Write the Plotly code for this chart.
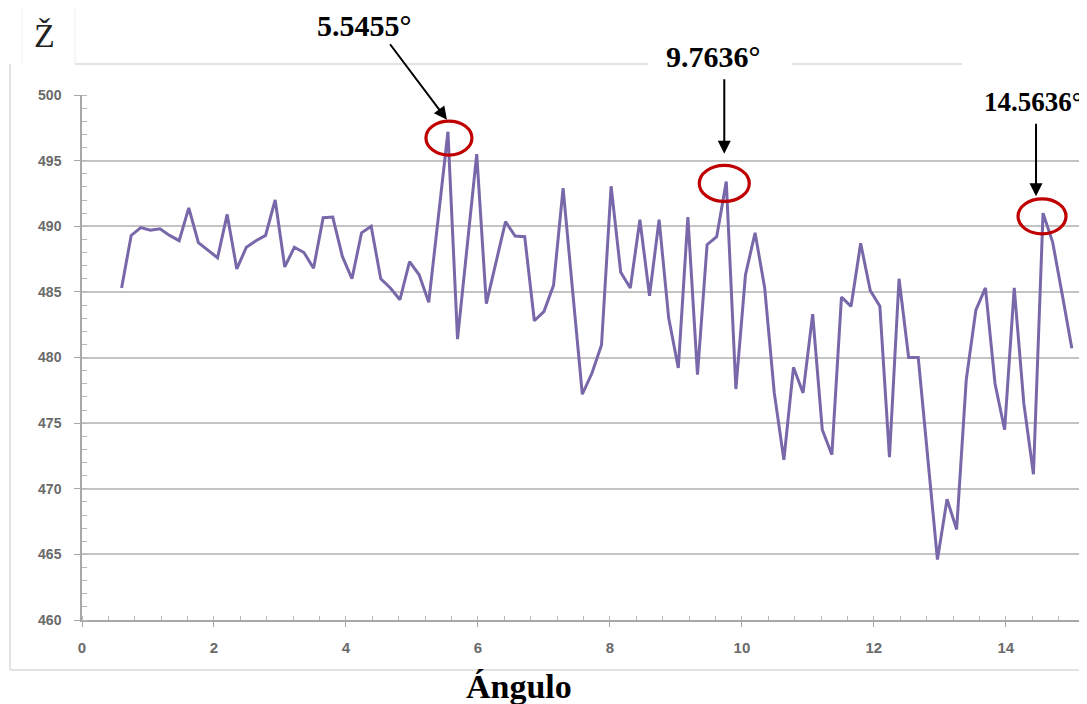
import plotly.graph_objects as go

# ---------------- data ----------------
angles = [
    0.6000, 0.7455, 0.8909, 1.0364, 1.1818, 1.3273, 1.4727, 1.6182, 1.7636, 1.9091,
    2.0545, 2.2000, 2.3455, 2.4909, 2.6364, 2.7818, 2.9273, 3.0727, 3.2182, 3.3636,
    3.5091, 3.6545, 3.8000, 3.9455, 4.0909, 4.2364, 4.3818, 4.5273, 4.6727, 4.8182,
    4.9636, 5.1091, 5.2545, 5.4000, 5.5455, 5.6909, 5.8364, 5.9818, 6.1273, 6.2727,
    6.4182, 6.5636, 6.7091, 6.8545, 7.0000, 7.1455, 7.2909, 7.4364, 7.5818, 7.7273,
    7.8727, 8.0182, 8.1636, 8.3091, 8.4545, 8.6000, 8.7455, 8.8909, 9.0364, 9.1818,
    9.3273, 9.4727, 9.6182, 9.7636, 9.9091, 10.0545, 10.2000, 10.3455, 10.4909, 10.6364,
    10.7818, 10.9273, 11.0727, 11.2182, 11.3636, 11.5091, 11.6545, 11.8000, 11.9455, 12.0909,
    12.2364, 12.3818, 12.5273, 12.6727, 12.8182, 12.9636, 13.1091, 13.2545, 13.4000, 13.5455,
    13.6909, 13.8364, 13.9818, 14.1273, 14.2727, 14.4182, 14.5636, 14.7091, 14.8545, 15.0000,
]
z_values = [
    485.3, 489.3, 489.9, 489.7, 489.8, 489.3, 488.9, 491.4, 488.75, 488.2,
    487.6, 490.9, 486.75, 488.4, 488.9, 489.3, 492.0, 486.9, 488.4, 488.0,
    486.8, 490.65, 490.7, 487.7, 486.0, 489.5, 490.0, 486.0, 485.3, 484.4,
    487.3, 486.3, 484.2, 490.7, 497.2, 481.4, 488.5, 495.5, 484.1, 487.2,
    490.35, 489.25, 489.2, 482.8, 483.5, 485.5, 492.9, 485.0, 477.2, 478.8,
    480.95, 493.05, 486.5, 485.3, 490.5, 484.7, 490.5, 483.0, 479.2, 490.7,
    478.7, 488.6, 489.2, 493.4, 477.6, 486.3, 489.5, 485.3, 477.3, 472.2,
    479.25, 477.3, 483.3, 474.5, 472.6, 484.6, 483.9, 488.7, 485.1, 483.9,
    472.4, 486.0, 480.0, 480.0, 472.3, 464.6, 469.2, 466.9, 478.3, 483.6,
    485.3, 478.0, 474.5, 485.3, 476.5, 471.1, 491.0, 488.8, 484.8, 480.7,
]
peak_indices = [34, 63, 96]
peak_labels = ["5.5455°", "9.7636°", "14.5636°"]
y_ticks = [460, 465, 470, 475, 480, 485, 490, 495, 500]
x_ticks = [0, 2, 4, 6, 8, 10, 12, 14]
x_title = "Ángulo"
y_title = "Ž"

# ---------------- figure ----------------
OFF = 8  # default page body margin
W, H = 1087 - OFF, 704 - OFF
ML, MR, MT, MB = 82 - OFF, 0, 95 - OFF, 704 - 620
PW, PH = W - ML - MR, H - MT - MB


def px_x(px):  # page pixel -> paper
    return (px - OFF - ML) / PW


def px_y(py):
    return (H - MB - (py - OFF)) / PH


fig = go.Figure()
fig.add_trace(go.Scatter(
    x=angles, y=z_values, mode="lines",
    line=dict(color="#7868A9", width=3),
    hoverinfo="skip", showlegend=False,
))

tick_font_y = dict(family="Liberation Sans, Arial, sans-serif", size=14, color="#6a6a6a", weight="bold")
tick_font_x = dict(family="Liberation Sans Narrow, Liberation Sans, Arial, sans-serif", size=15, color="#6a6a6a", weight="bold")

fig.update_layout(
    width=W, height=H, autosize=False,
    margin=dict(l=ML, r=MR, t=MT, b=MB, pad=0),
    paper_bgcolor="white", plot_bgcolor="white",
    showlegend=False,
    xaxis=dict(
        range=[0, 15.23], tickvals=x_ticks, ticktext=[str(v) for v in x_ticks],
        showgrid=False, zeroline=False,
        showline=True, linecolor="#A8A8A8", linewidth=1.5,
        ticks="outside", ticklen=5, tickcolor="#A8A8A8", tickwidth=1.2,
        ticklabelstandoff=8,
        minor=dict(dtick=0.4, tick0=0, ticks="inside", ticklen=4, tickcolor="#B8B8B8", showgrid=False),
        tickfont=tick_font_x,
    ),
    yaxis=dict(
        range=[460, 500], tickvals=y_ticks,
        showgrid=True, gridcolor="#C4C4C4", gridwidth=1.6,
        zeroline=False,
        showline=True, linecolor="#A8A8A8", linewidth=1.5,
        ticks="outside", ticklen=6, tickcolor="#A8A8A8", tickwidth=1.2,
        ticklabelstandoff=10,
        minor=dict(dtick=1, tick0=460, ticks="inside", ticklen=5, tickcolor="#B8B8B8", showgrid=False),
        tickfont=tick_font_y,
    ),
)

shapes = []
frame_col = "#DADADA"
shapes.append(dict(type="line", xref="paper", yref="paper", x0=px_x(75), x1=px_x(1095), y0=px_y(64), y1=px_y(64),
                   line=dict(color=frame_col, width=1.5), layer="below"))
shapes.append(dict(type="line", xref="paper", yref="paper", x0=px_x(10), x1=px_x(10), y0=px_y(64), y1=px_y(670),
                   line=dict(color=frame_col, width=1.5), layer="below"))
shapes.append(dict(type="line", xref="paper", yref="paper", x0=px_x(10), x1=px_x(1095), y0=px_y(670), y1=px_y(670),
                   line=dict(color=frame_col, width=1.5), layer="below"))
shapes.append(dict(type="line", xref="paper", yref="paper", x0=px_x(75), x1=px_x(75), y0=px_y(8), y1=px_y(64),
                   line=dict(color="#F0F0F0", width=1.2), layer="below"))
shapes.append(dict(type="line", xref="paper", yref="paper", x0=px_x(22), x1=px_x(22), y0=px_y(8), y1=px_y(64),
                   line=dict(color="#F3F3F3", width=1.2), layer="below"))

# white patches behind the peak labels
shapes.append(dict(type="rect", xref="paper", yref="paper", x0=px_x(648), x1=px_x(792), y0=px_y(76), y1=px_y(40),
                   fillcolor="white", line=dict(width=0), layer="above"))
shapes.append(dict(type="rect", xref="paper", yref="paper", x0=px_x(962), x1=px_x(1100), y0=px_y(118), y1=px_y(56),
                   fillcolor="white", line=dict(width=0), layer="above"))

ellipse_geo = [  # (dx centre, dy centre (down), width, height) in px
    (1, 6.3, 46, 34),
    (-2, 1.8, 50, 36),
    (-1, 3.2, 48, 35),
]
for idx, (dx, dy, ew, eh) in zip(peak_indices, ellipse_geo):
    shapes.append(dict(
        type="circle", xref="x", yref="y",
        xsizemode="pixel", ysizemode="pixel",
        xanchor=angles[idx], yanchor=z_values[idx],
        x0=dx - ew / 2, x1=dx + ew / 2,
        y0=-dy - eh / 2, y1=-dy + eh / 2,
        line=dict(color="#C00000", width=3.2), layer="above",
    ))
fig.update_layout(shapes=shapes)

annotations = []
label_pos = [(364, 26), (713, 57), (1033, 102)]
label_size = [30, 30, 27]
arrow_geo = [  # tip offset from peak (dx, dy up), tail offset from tip (ax, ay)
    (-1, 12, -58, -77),
    (-2, 28, 0, -76),
    (-7, 17, 0, -74),
]
for idx, lab, (lx, ly), fs, (tdx, tdy, ax, ay) in zip(peak_indices, peak_labels, label_pos, label_size, arrow_geo):
    annotations.append(dict(
        xref="paper", yref="paper", x=px_x(lx), y=px_y(ly),
        text=lab, showarrow=False,
        font=dict(family="Liberation Serif, Times New Roman, serif", size=fs, color="black", weight="bold"),
        xanchor="center", yanchor="middle",
    ))
    annotations.append(dict(
        xref="x", yref="y", x=angles[idx], y=z_values[idx],
        xshift=tdx, yshift=tdy,
        text="", showarrow=True, ax=ax, ay=ay,
        arrowhead=2, arrowsize=1.3, arrowwidth=2, arrowcolor="black",
    ))

annotations.append(dict(
    xref="paper", yref="paper", x=px_x(44), y=px_y(36),
    text=y_title, showarrow=False,
    font=dict(family="Liberation Serif, Times New Roman, serif", size=34, color="#222222"),
    xanchor="center", yanchor="middle",
))
annotations.append(dict(
    xref="paper", yref="paper", x=px_x(519), y=px_y(686),
    text=x_title, showarrow=False,
    font=dict(family="Liberation Serif, Times New Roman, serif", size=34, color="black", weight="bold"),
    xanchor="center", yanchor="middle",
))
fig.update_layout(annotations=annotations)

fig.write_html("out.html")
